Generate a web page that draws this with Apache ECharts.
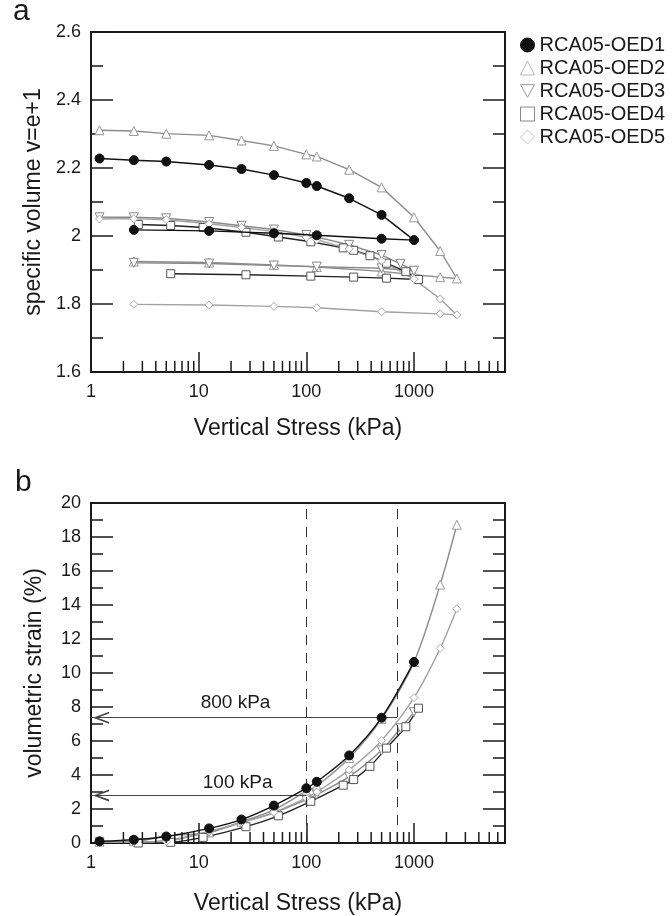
<!DOCTYPE html>
<html>
<head>
<meta charset="utf-8">
<script src="https://cdn.jsdelivr.net/npm/echarts@6/dist/echarts.min.js"></script>
<style>
  html, body { margin: 0; padding: 0; background: #fff; }
  #chart { width: 672px; height: 916px; }
</style>
</head>
<body>
<div id="chart"></div>
<script>
// ---- data: panel a (specific volume, loading then unloading) ----
const names = ['RCA05-OED1', 'RCA05-OED2', 'RCA05-OED3', 'RCA05-OED4', 'RCA05-OED5']

const stressA1 = [1.2, 2.5, 5, 12.5, 25, 50, 100, 125, 250, 500, 1000, 500, 125, 50, 12.5, 2.5]
const volA1 = [2.228, 2.223, 2.219, 2.209, 2.197, 2.179, 2.156, 2.147, 2.111, 2.062, 1.988, 1.992, 2.002, 2.008, 2.015, 2.018]

const stressA2 = [1.2, 2.5, 5, 12.5, 25, 50, 100, 125, 250, 500, 1000, 1750, 2500, 1750, 1000, 500, 125, 50, 12.5, 2.5]
const volA2 = [2.311, 2.309, 2.301, 2.296, 2.281, 2.265, 2.240, 2.234, 2.195, 2.143, 2.055, 1.956, 1.875, 1.879, 1.886, 1.896, 1.909, 1.915, 1.922, 1.925]

const stressA3 = [1.2, 2.5, 5, 12.5, 25, 50, 100, 125, 250, 500, 750, 1000, 500, 125, 50, 12.5, 2.5]
const volA3 = [2.055, 2.055, 2.052, 2.041, 2.030, 2.019, 2.003, 1.997, 1.974, 1.944, 1.918, 1.898, 1.905, 1.910, 1.913, 1.919, 1.921]

const stressA4 = [2.75, 5.5, 11, 27.5, 55, 110, 220, 275, 390, 555, 840, 1100, 555, 275, 110, 27.5, 5.5]
const volA4 = [2.034, 2.031, 2.025, 2.011, 1.997, 1.983, 1.965, 1.958, 1.942, 1.920, 1.895, 1.872, 1.876, 1.879, 1.882, 1.886, 1.889]

const stressA5 = [1.2, 2.5, 5, 12.5, 25, 50, 100, 125, 250, 500, 1000, 1750, 2500, 1750, 500, 125, 50, 12.5, 2.5]
const volA5 = [2.050, 2.051, 2.048, 2.036, 2.025, 2.013, 1.996, 1.989, 1.962, 1.927, 1.873, 1.815, 1.768, 1.771, 1.777, 1.789, 1.793, 1.797, 1.799]

// ---- data: panel b (volumetric strain %, loading only) ----
const stressB1 = [1.2, 2.5, 5, 12.5, 25, 50, 100, 125, 250, 500, 1000]
const strainB1 = [0.10, 0.19, 0.38, 0.86, 1.38, 2.2, 3.22, 3.6, 5.15, 7.37, 10.65]

const stressB2 = [1.2, 2.5, 5, 12.5, 25, 50, 100, 125, 250, 500, 1000, 1750, 2500]
const strainB2 = [0.08, 0.10, 0.40, 0.62, 1.25, 1.95, 3.05, 3.35, 5.0, 7.3, 10.65, 15.2, 18.72]

const stressB3 = [1.2, 2.5, 5, 12.5, 25, 50, 100, 125, 250, 500, 750, 1000]
const strainB3 = [0.05, 0.05, 0.15, 0.65, 1.2, 1.78, 2.55, 2.85, 3.9, 5.45, 6.75, 7.7]

const stressB4 = [2.75, 5.5, 11, 27.5, 55, 110, 220, 275, 390, 555, 840, 1100]
const strainB4 = [0.0, 0.04, 0.33, 0.96, 1.6, 2.45, 3.4, 3.73, 4.51, 5.58, 6.84, 7.93]

const stressB5 = [1.2, 2.5, 5, 12.5, 25, 50, 100, 125, 250, 500, 1000, 1750, 2500]
const strainB5 = [0.05, 0.05, 0.10, 0.68, 1.2, 1.8, 2.65, 3.0, 4.3, 6.03, 8.55, 11.45, 13.78]

// minor ticks of the log stress axis
const minorStressTicks = [2, 3, 4, 5, 6, 7, 8, 9, 20, 30, 40, 50, 60, 70, 80, 90,
  200, 300, 400, 500, 600, 700, 800, 900, 2000, 3000, 4000, 5000, 6000]

// reference lines in panel b
const refStress = [100, 700]
const refStrain = [2.8, 7.37]
const refLabels = ['100 kPa', '800 kPa']

const FONT = '"Liberation Sans", Arial, sans-serif'
const INK = '#1a1a1a'
const TRI_DOWN = 'path://M0,0 L10,0 L5,9 Z'

const styles = [
  { symbol: 'circle', size: 9, fill: '#111', stroke: '#111', line: '#111', legendStroke: '#111' },
  { symbol: 'triangle', size: 9, fill: '#fff', stroke: '#999', line: '#8c8c8c', legendStroke: '#b5b5b5' },
  { symbol: TRI_DOWN, size: 9, fill: '#fff', stroke: '#888', line: '#8a8a8a', legendStroke: '#999' },
  { symbol: 'rect', size: 8, fill: '#fff', stroke: '#555', line: '#222', legendStroke: '#888' },
  { symbol: 'diamond', size: 8, fill: '#fff', stroke: '#aaa', line: '#a3a3a3', legendStroke: '#c4c4c4' }
]

const panelA = [[stressA1, volA1], [stressA2, volA2], [stressA3, volA3], [stressA4, volA4], [stressA5, volA5]]
const panelB = [[stressB1, strainB1], [stressB2, strainB2], [stressB3, strainB3], [stressB4, strainB4], [stressB5, strainB5]]

const zip = (xs, ys) => xs.map((x, i) => [x, ys[i]])

const isPow10 = v => Math.abs(Math.log10(v) - Math.round(Math.log10(v))) < 1e-6

const tickLine = { color: INK, width: 1.5 }

const makeX = (gridIndex, gap) => ({
  gridIndex,
  type: 'log',
  logBase: 10,
  min: 1,
  max: 7000,
  name: 'Vertical Stress (kPa)',
  nameLocation: 'middle',
  nameGap: gap,
  nameTextStyle: { fontSize: 23, color: INK, fontFamily: FONT },
  axisLine: { show: true, lineStyle: { color: INK, width: 2 } },
  axisTick: { show: true, inside: true, length: 20, lineStyle: tickLine },
  minorTick: { show: false },
  splitLine: { show: false },
  axisLabel: {
    fontSize: 18, color: INK, fontFamily: FONT, margin: 11,
    formatter: v => (isPow10(v) && v < 5000 ? String(Math.round(v)) : '')
  }
})

const makeY = (gridIndex, min, max, interval, name, right) => ({
  gridIndex,
  type: 'value',
  min, max, interval,
  position: right ? 'right' : 'left',
  name: right ? '' : name,
  nameLocation: 'middle',
  nameGap: 45,
  nameTextStyle: { fontSize: 23, color: INK, fontFamily: FONT },
  axisLine: { show: true, lineStyle: { color: INK, width: 2 } },
  axisTick: { show: true, inside: true, length: 22, lineStyle: tickLine },
  minorTick: { show: true, splitNumber: 2, length: 12, lineStyle: tickLine },
  splitLine: { show: false },
  axisLabel: { show: !right, fontSize: 18, color: INK, fontFamily: FONT, margin: 10 }
})

const dataSeries = (panel, gridIndex, smooth) => panel.map(([xs, ys], i) => ({
  name: names[i],
  type: 'line',
  xAxisIndex: gridIndex,
  yAxisIndex: gridIndex * 2,
  data: zip(xs, ys),
  smooth,
  symbol: styles[i].symbol,
  symbolSize: styles[i].size,
  showAllSymbol: true,
  lineStyle: { color: styles[i].line, width: 1.4 },
  itemStyle: { color: styles[i].fill, borderColor: styles[i].stroke, borderWidth: 1 },
  emphasis: { disabled: true },
  z: 3 + (i === 0 ? 2 : 0)
}))

const minorTickSeries = (gridIndex, yMin) => ({
  type: 'custom',
  xAxisIndex: gridIndex,
  yAxisIndex: gridIndex * 2,
  silent: true,
  z: 6,
  data: minorStressTicks.map(v => [v, yMin]),
  renderItem: (params, api) => {
    const p = api.coord([api.value(0), api.value(1)])
    return {
      type: 'line',
      shape: { x1: p[0], y1: p[1], x2: p[0], y2: p[1] - 11 },
      style: { stroke: INK, lineWidth: 1.5 }
    }
  }
})

// open chevron arrow head, tip pointing along the line
const arrowHead = 'path://M10,0 L20,28 L17,28 L10,8 L3,28 L0,28 Z'

const guideSeries = {
  name: 'guides',
  type: 'line',
  xAxisIndex: 1,
  yAxisIndex: 2,
  data: [],
  silent: true,
  markLine: {
    silent: true,
    animation: false,
    symbol: 'none',
    label: { show: false },
    data: [
      ...refStress.map(s => ({ xAxis: s, lineStyle: { type: [10, 8], color: '#333', width: 1 } })),
      ...refStrain.map((e, i) => [
        { coord: [refStress[i], e], symbol: 'none', lineStyle: { color: '#444', width: 1, type: 'solid' } },
        { coord: [1, e], symbol: arrowHead, symbolSize: [12, 16], symbolOffset: [0, 10] }
      ])
    ]
  },
  markPoint: {
    silent: true,
    animation: false,
    symbol: 'circle',
    symbolSize: 0,
    label: { show: true, position: 'inside', formatter: '{b}', fontSize: 19, color: INK, fontFamily: FONT },
    data: [
      { name: refLabels[0], coord: [23, 3.55] },
      { name: refLabels[1], coord: [22, 8.25] }
    ]
  }
}

const chart = echarts.init(document.getElementById('chart'), null, { renderer: 'canvas' })

chart.setOption({
  animation: false,
  backgroundColor: '#fff',
  textStyle: { fontFamily: FONT },
  grid: [
    { left: 91, top: 32, width: 414, height: 340, show: true, borderColor: INK, borderWidth: 2, backgroundColor: 'transparent' },
    { left: 91, top: 503, width: 414, height: 343, show: true, borderColor: INK, borderWidth: 2, backgroundColor: 'transparent' }
  ],
  legend: {
    show: true,
    orient: 'vertical',
    left: 515,
    top: 30,
    itemWidth: 14,
    itemHeight: 14,
    itemGap: 3,
    selectedMode: false,
    textStyle: { fontSize: 20, color: INK, fontFamily: FONT, lineHeight: 19 },
    data: names.map((n, i) => ({
      name: n,
      icon: styles[i].symbol,
      itemStyle: { color: styles[i].fill, borderColor: styles[i].legendStroke, borderWidth: 1 }
    }))
  },
  graphic: [
    { type: 'text', x: 13, y: 12, style: { text: 'a', fontSize: 30, fill: INK, fontFamily: FONT, verticalAlign: 'middle' } },
    { type: 'text', x: 15, y: 483, style: { text: 'b', fontSize: 30, fill: INK, fontFamily: FONT, verticalAlign: 'middle' } }
  ],
  xAxis: [makeX(0, 45), makeX(1, 49)],
  yAxis: [
    makeY(0, 1.6, 2.6, 0.2, 'specific volume v=e+1', false),
    makeY(0, 1.6, 2.6, 0.2, '', true),
    makeY(1, 0, 20, 2, 'volumetric strain (%)', false),
    makeY(1, 0, 20, 2, '', true)
  ],
  series: [
    minorTickSeries(0, 1.6),
    minorTickSeries(1, 0),
    guideSeries,
    ...dataSeries(panelA, 0, false),
    ...dataSeries(panelB, 1, 0.3)
  ]
})
</script>
</body>
</html>
